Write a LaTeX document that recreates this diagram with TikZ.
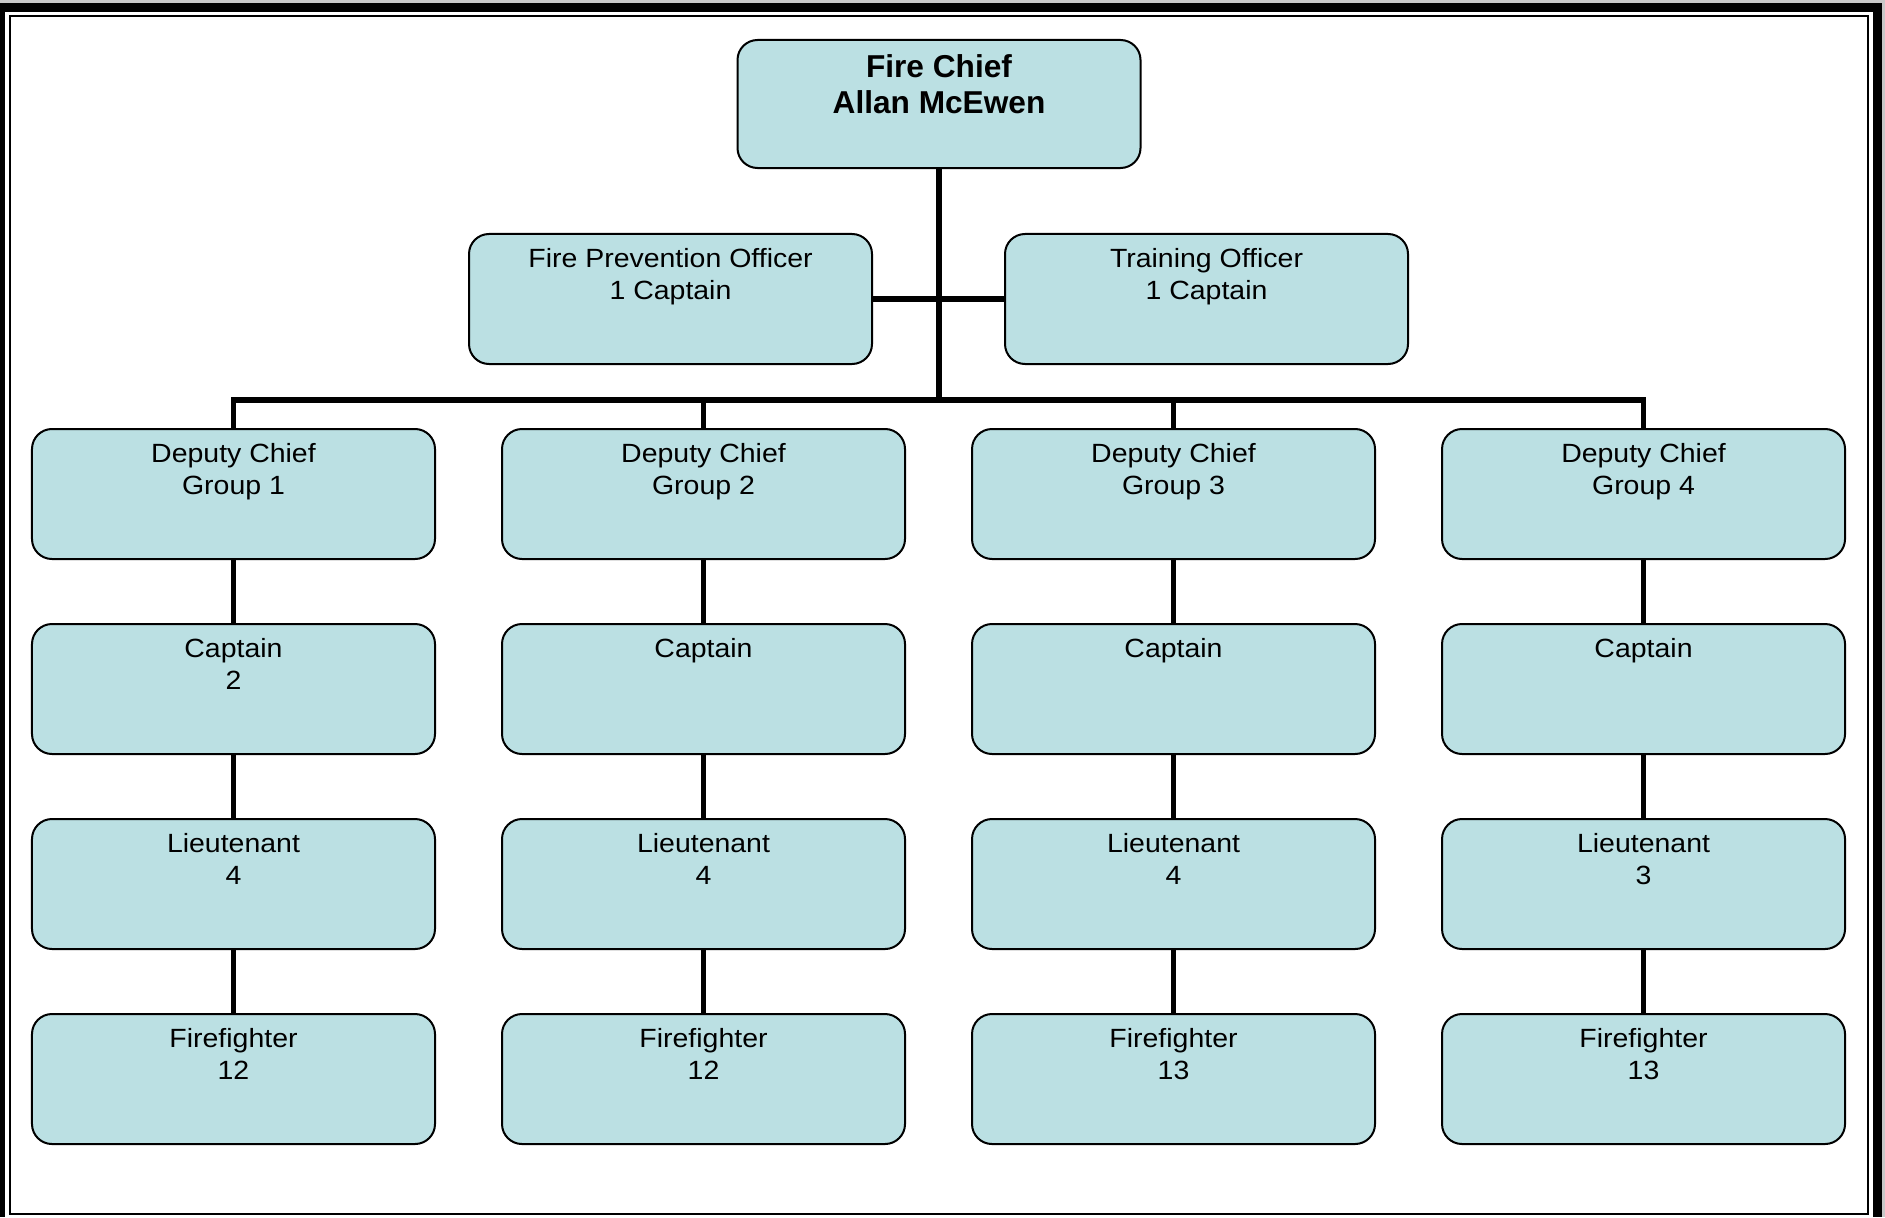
\documentclass[tikz,border=0pt]{standalone}
\usepackage{fontspec}
\setmainfont{Liberation Sans}[FakeStretch=1.08]
\newfontfamily\chieffont{Liberation Sans}
\usetikzlibrary{positioning}
\definecolor{boxfill}{HTML}{BBE0E3}
\definecolor{pagegray}{HTML}{C8C8C8}
\tikzset{unit/.style={draw, line width=0.4mm, rounded corners=4mm, fill=boxfill,
    minimum width=80.6mm, minimum height=26mm, inner sep=0pt},
  title/.style={anchor=north, align=center, inner sep=0pt, yshift=-3.1mm,
    font=\fontsize{15}{18}\selectfont},
  chieftitle/.style={anchor=north, align=center, inner sep=0pt, yshift=-2.95mm,
    font=\chieffont\fontsize{18}{20.8}\selectfont\bfseries},
  link/.style={line width=1.1mm}
}

\begin{document}
\begin{tikzpicture}[x=0.2mm, y=-0.2mm, node distance=39mm and 94mm, on grid]
            % frame
            \useasboundingbox (0,0) rectangle (1885,1217);
            \fill[pagegray] (0,0) rectangle (1885,1217);
            \fill[black] (0,3) rectangle (1882,1217);
            \fill[white] (5,12) rectangle (1873,1217);
            \draw[line width=0.3mm] (10,16) rectangle (1868,1214);

            \node[unit, minimum height=25.6mm, label={[chieftitle]north:Fire Chief\\Allan McEwen}] (chief) at (939,104) {};
            \node[unit, label={[title]north:Fire Prevention Officer\\1 Captain}] (fpo) at (670.5,299) {};
            \node[unit, label={[title]north:Training Officer\\1 Captain}] (train) at (1206.5,299) {};

            % groups
            \node[unit, label={[title]north:Deputy Chief\\Group 1}] (dc1) at (233.5,494) {};
            \node[unit, label={[title]north:Deputy Chief\\Group 2}] (dc2) [right=of dc1] {};
            \node[unit, label={[title]north:Deputy Chief\\Group 3}] (dc3) [right=of dc2] {};
            \node[unit, label={[title]north:Deputy Chief\\Group 4}] (dc4) [right=of dc3] {};

            \node[unit, label={[title]north:Captain\\2}] (cap1) [below=of dc1] {};
            \node[unit, label={[title]north:Captain}] (cap2) [below=of dc2] {};
            \node[unit, label={[title]north:Captain}] (cap3) [below=of dc3] {};
            \node[unit, label={[title]north:Captain}] (cap4) [below=of dc4] {};

            \node[unit, label={[title]north:Lieutenant\\4}] (lt1) [below=of cap1] {};
            \node[unit, label={[title]north:Lieutenant\\4}] (lt2) [below=of cap2] {};
            \node[unit, label={[title]north:Lieutenant\\4}] (lt3) [below=of cap3] {};
            \node[unit, label={[title]north:Lieutenant\\3}] (lt4) [below=of cap4] {};

            \node[unit, label={[title]north:Firefighter\\12}] (ff1) [below=of lt1] {};
            \node[unit, label={[title]north:Firefighter\\12}] (ff2) [below=of lt2] {};
            \node[unit, label={[title]north:Firefighter\\13}] (ff3) [below=of lt3] {};
            \node[unit, label={[title]north:Firefighter\\13}] (ff4) [below=of lt4] {};

            % connectors
            \coordinate (bus) at (939,400);
            \draw[link] (chief) -- (bus);
            \draw[link] (fpo) -- (train);
            \draw[link] (dc1.north) |- (bus) -| (dc4.north);
            \draw[link] (dc2) -- (dc2 |- bus)
                (dc3) -- (dc3 |- bus);
            \draw[link] (dc1) -- (cap1) (cap1) -- (lt1) (lt1) -- (ff1)
                (dc2) -- (cap2) (cap2) -- (lt2) (lt2) -- (ff2)
                (dc3) -- (cap3) (cap3) -- (lt3) (lt3) -- (ff3)
                (dc4) -- (cap4) (cap4) -- (lt4) (lt4) -- (ff4);
        \end{tikzpicture}
\end{document}
